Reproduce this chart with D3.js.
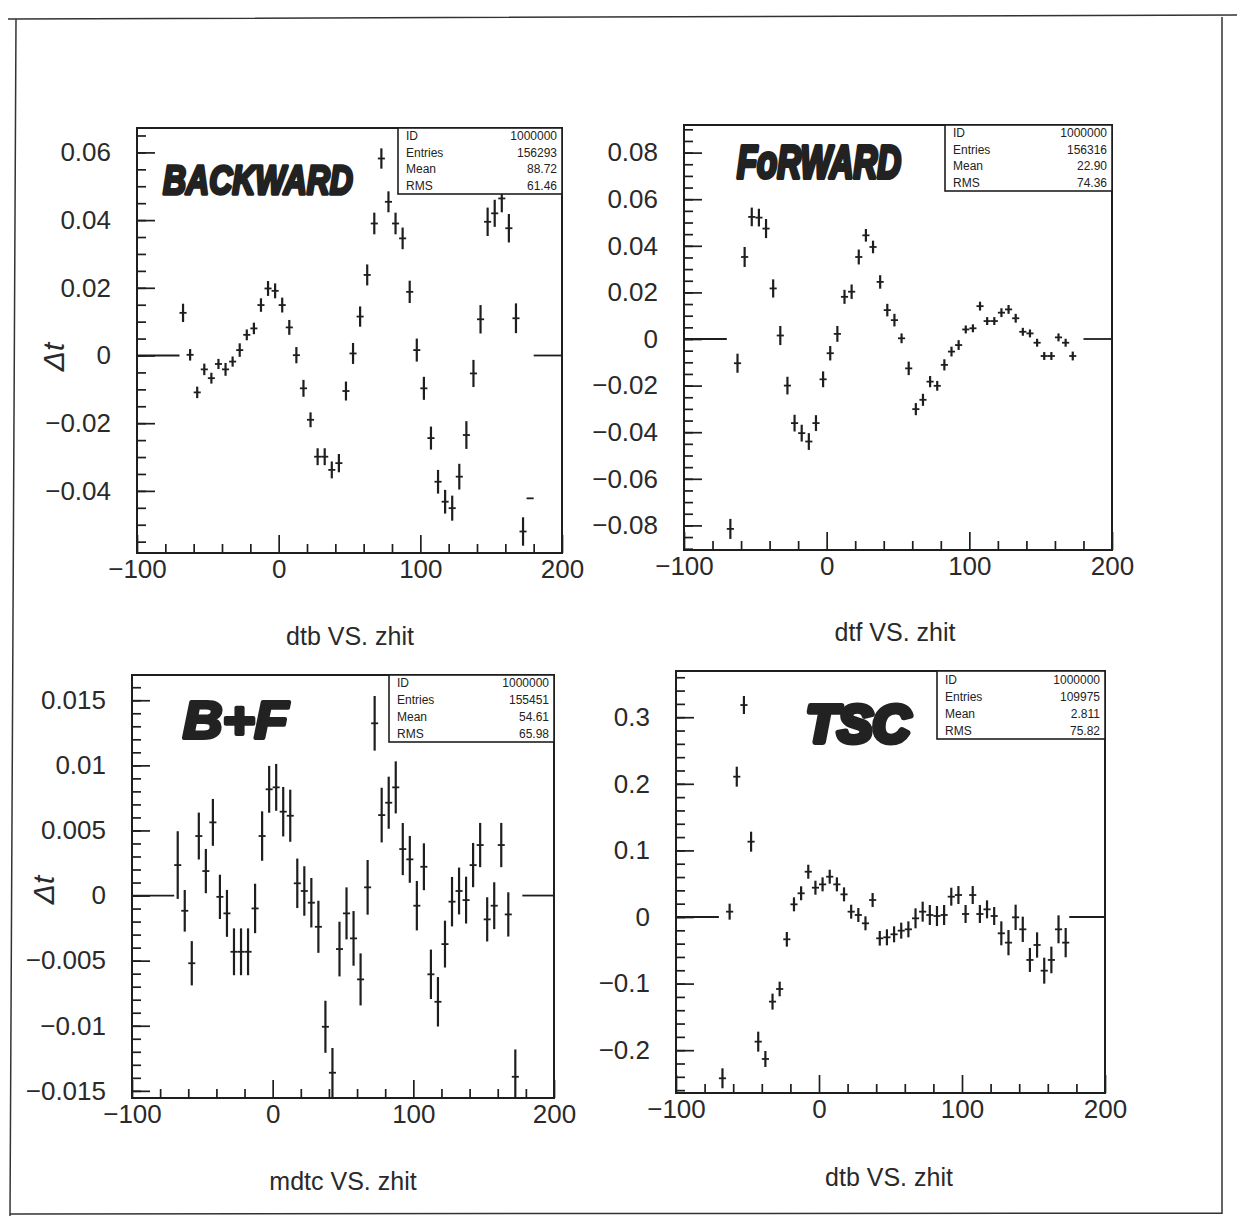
<!DOCTYPE html>
<html>
<head>
<meta charset="utf-8">
<script src="https://cdn.jsdelivr.net/npm/d3@7"></script>
<style>
  body { margin: 0; background: #fff; }
  svg { display: block; }
  text { font-family: "Liberation Sans", Arial, Helvetica, sans-serif; }
</style>
</head>
<body>
<svg id="page" width="1237" height="1219"></svg>
<script>
// ---- bin centres of the profile histograms (zhit, 5 unit bins) ----
const zhit = [-67.5, -62.5, -57.5, -52.5, -47.5, -42.5, -37.5, -32.5, -27.5, -22.5,
              -17.5, -12.5, -7.5, -2.5, 2.5, 7.5, 12.5, 17.5, 22.5, 27.5,
              32.5, 37.5, 42.5, 47.5, 52.5, 57.5, 62.5, 67.5, 72.5, 77.5,
              82.5, 87.5, 92.5, 97.5, 102.5, 107.5, 112.5, 117.5, 122.5, 127.5,
              132.5, 137.5, 142.5, 147.5, 152.5, 157.5, 162.5, 167.5, 172.5, 177.5];

// ---- dtb VS. zhit (backward) ----
const dtbBackward = [0.0126, 0.0002, -0.0109, -0.0041, -0.0067, -0.0025, -0.0041, -0.0018, 0.0016, 0.0061,
                     0.0080, 0.0149, 0.0198, 0.0191, 0.0149, 0.0083, 0.0001, -0.0097, -0.0190, -0.0299,
                     -0.0299, -0.0338, -0.0318, -0.0105, 0.0006, 0.0115, 0.0238, 0.0390, 0.0582, 0.0454,
                     0.0390, 0.0346, 0.0188, 0.0016, -0.0097, -0.0244, -0.0373, -0.0432, -0.0451, -0.0358,
                     -0.0235, -0.0053, 0.0107, 0.0395, 0.0420, 0.0464, 0.0376, 0.0110, -0.0520, -0.0422];
const dtbBackwardErr = [0.0027, 0.0017, 0.0017, 0.0017, 0.0016, 0.0015, 0.0019, 0.0015, 0.0020, 0.0016,
                        0.0017, 0.0020, 0.0022, 0.0022, 0.0022, 0.0022, 0.0024, 0.0025, 0.0022, 0.0025,
                        0.0025, 0.0025, 0.0027, 0.0028, 0.0031, 0.0030, 0.0031, 0.0032, 0.0030, 0.0031,
                        0.0032, 0.0032, 0.0033, 0.0034, 0.0034, 0.0034, 0.0035, 0.0035, 0.0037, 0.0038,
                        0.0041, 0.0040, 0.0042, 0.0042, 0.0040, 0.0041, 0.0042, 0.0044, 0.0042, 0];

// ---- dtf VS. zhit (forward) ----
const dtfForward = [-0.0815, -0.0104, 0.0352, 0.0524, 0.0521, 0.0474, 0.0217, 0.0015, -0.0200, -0.0361,
                    -0.0404, -0.0440, -0.0361, -0.0173, -0.0061, 0.0022, 0.0181, 0.0203, 0.0352, 0.0445,
                    0.0395, 0.0245, 0.0124, 0.0081, 0.0003, -0.0126, -0.0301, -0.0261, -0.0183, -0.0201,
                    -0.0111, -0.0054, -0.0026, 0.0041, 0.0046, 0.0141, 0.0077, 0.0077, 0.0113, 0.0127,
                    0.0089, 0.0031, 0.0024, -0.0016, -0.0073, -0.0073, 0.0007, -0.0016, -0.0073, null];
const dtfForwardErr = [0.0043, 0.0041, 0.0043, 0.0040, 0.0038, 0.0041, 0.0039, 0.0041, 0.0038, 0.0036,
                       0.0036, 0.0036, 0.0034, 0.0034, 0.0031, 0.0034, 0.0030, 0.0031, 0.0032, 0.0027,
                       0.0027, 0.0029, 0.0027, 0.0027, 0.0021, 0.0029, 0.0026, 0.0026, 0.0024, 0.0021,
                       0.0024, 0.0021, 0.0021, 0.0017, 0.0017, 0.0019, 0.0017, 0.0017, 0.0019, 0.0019,
                       0.0019, 0.0017, 0.0017, 0.0017, 0.0017, 0.0017, 0.0017, 0.0017, 0.0019, null];

// ---- mdtc VS. zhit (backward + forward) ----
const mdtcBF = [0.00234, -0.00117, -0.00520, 0.00457, 0.00188, 0.00562, -0.00010, -0.00137, -0.00432, -0.00432,
                -0.00432, -0.00099, 0.00457, 0.00816, 0.00831, 0.00644, 0.00613, 0.00094, 0.00035, -0.00055,
                -0.00240, -0.01008, -0.01361, -0.00411, -0.00137, -0.00329, -0.00644, 0.00063, 0.01323, 0.00618,
                0.00713, 0.00831, 0.00357, 0.00278, -0.00078, 0.00221, -0.00605, -0.00816, -0.00373, -0.00047,
                0.00035, -0.00035, 0.00234, 0.00388, -0.00183, -0.00078, 0.00388, -0.00145, -0.01392, null];
const mdtcBFErr = [0.0026, 0.0016, 0.0017, 0.0018, 0.0017, 0.0018, 0.0017, 0.0018, 0.0018, 0.0018,
                   0.0018, 0.0019, 0.0019, 0.0018, 0.0018, 0.0019, 0.0020, 0.0019, 0.0019, 0.0019,
                   0.0020, 0.0020, 0.0019, 0.0021, 0.0020, 0.0021, 0.0020, 0.0021, 0.0021, 0.0021,
                   0.0020, 0.0020, 0.0020, 0.0018, 0.0019, 0.0018, 0.0019, 0.0019, 0.0018, 0.0019,
                   0.0018, 0.0018, 0.0017, 0.0017, 0.0017, 0.0018, 0.0017, 0.0017, 0.0021, null];

// ---- dtb VS. zhit (TSC) ----
const dtbTSC = [-0.2422, 0.0080, 0.2107, 0.3183, 0.1131, -0.1872, -0.2132, -0.1271, -0.1081, -0.0335,
                0.0190, 0.0356, 0.0680, 0.0440, 0.0490, 0.0605, 0.0490, 0.0340, 0.0080, 0.0030,
                -0.0095, 0.0255, -0.0320, -0.0305, -0.0260, -0.0205, -0.0185, -0.0020, 0.0080, 0.0030,
                0.0015, 0.0030, 0.0305, 0.0330, 0.0045, 0.0330, 0.0045, 0.0115, 0.0015, -0.0245,
                -0.0385, -0.0005, -0.0185, -0.0645, -0.0420, -0.0806, -0.0645, -0.0185, -0.0385, null];
const dtbTSCErr = [0.0150, 0.0120, 0.0150, 0.0135, 0.0150, 0.0150, 0.0120, 0.0120, 0.0110, 0.0110,
                   0.0105, 0.0105, 0.0105, 0.0105, 0.0105, 0.0105, 0.0105, 0.0105, 0.0105, 0.0105,
                   0.0105, 0.0105, 0.0110, 0.0120, 0.0120, 0.0120, 0.0120, 0.0150, 0.0150, 0.0150,
                   0.0150, 0.0150, 0.0135, 0.0135, 0.0135, 0.0135, 0.0135, 0.0135, 0.0135, 0.0180,
                   0.0190, 0.0190, 0.0190, 0.0180, 0.0190, 0.0195, 0.0200, 0.0210, 0.0220, null];

// ---- statistics boxes ----
const statNames = ["ID", "Entries", "Mean", "RMS"];
const statsBackward = ["1000000", "156293", "88.72", "61.46"];
const statsForward  = ["1000000", "156316", "22.90", "74.36"];
const statsBF       = ["1000000", "155451", "54.61", "65.98"];
const statsTSC      = ["1000000", "109975", "2.811", "75.82"];

// ---- axis ticks ----
const xTickValues = [-100, 0, 100, 200];
const xTickLabels = ["\u2212100", "0", "100", "200"];
const yTicksBackward = [-0.04, -0.02, 0, 0.02, 0.04, 0.06];
const yLabelsBackward = ["\u22120.04", "\u22120.02", "0", "0.02", "0.04", "0.06"];
const yTicksForward = [-0.08, -0.06, -0.04, -0.02, 0, 0.02, 0.04, 0.06, 0.08];
const yLabelsForward = ["\u22120.08", "\u22120.06", "\u22120.04", "\u22120.02", "0", "0.02", "0.04", "0.06", "0.08"];
const yTicksBF = [-0.015, -0.01, -0.005, 0, 0.005, 0.01, 0.015];
const yLabelsBF = ["\u22120.015", "\u22120.01", "\u22120.005", "0", "0.005", "0.01", "0.015"];
const yTicksTSC = [-0.2, -0.1, 0, 0.1, 0.2, 0.3];
const yLabelsTSC = ["\u22120.2", "\u22120.1", "0", "0.1", "0.2", "0.3"];

const ink = "#1e1e1e";
const svg = d3.select("#page");

// outer sheet border
svg.append("path")
  .attr("d", "M8,19 L1237,15 M16,19 L10,1216 M1222,17 L1222,1214 M10,1214 L1222,1213")
  .attr("fill", "none").attr("stroke", "#333").attr("stroke-width", 1.5);

const panels = [
  { frame: [137, 562, 128, 553], yDomain: [-0.05835, 0.06721], yMinorStep: 0.005,
    values: dtbBackward, errors: dtbBackwardErr, empty: [[-100, -70], [180, 200]],
    yTicks: yTicksBackward, yLabels: yLabelsBackward, stats: statsBackward,
    statBox: [398, 194], title: "dtb VS. zhit", titlePos: [350, 645],
    tag: "BACKWARD", tagBox: [163, 194, 190, 40, 3], yTitle: [53, 357] },
  { frame: [684, 1112, 125, 550], yDomain: [-0.09056, 0.09185], yMinorStep: 0.005,
    values: dtfForward, errors: dtfForwardErr, empty: [[-100, -70], [180, 200]],
    yTicks: yTicksForward, yLabels: yLabelsForward, stats: statsForward,
    statBox: [945, 191], title: "dtf VS. zhit", titlePos: [895, 641],
    tag: "FoRWARD", tagBox: [737, 178, 164, 46, 3.5], yTitle: null },
  { frame: [132, 554, 675, 1098], yDomain: [-0.01555, 0.01694], yMinorStep: 0.001,
    values: mdtcBF, errors: mdtcBFErr, empty: [[-100, -70], [177.5, 200]],
    yTicks: yTicksBF, yLabels: yLabelsBF, stats: statsBF,
    statBox: [389, 742], title: "mdtc VS. zhit", titlePos: [343, 1190],
    tag: "B+F", tagBox: [183, 738, 105, 52, 4], yTitle: [43, 890] },
  { frame: [676, 1105, 671, 1093], yDomain: [-0.2643, 0.3694], yMinorStep: 0.02,
    values: dtbTSC, errors: dtbTSCErr, empty: [[-100, -70], [175, 200]],
    yTicks: yTicksTSC, yLabels: yLabelsTSC, stats: statsTSC,
    statBox: [937, 739], title: "dtb VS. zhit", titlePos: [889, 1186],
    tag: "TSC", tagBox: [806, 742, 104, 52, 6], yTitle: null }
];

panels.forEach((p, k) => {
  const [L, R, T, B] = p.frame;
  const x = d3.scaleLinear().domain([-100, 200]).range([L, R]);
  const y = d3.scaleLinear().domain(p.yDomain).range([B, T]);
  const g = svg.append("g");

  // minor ticks (inside the frame)
  const yMinor = d3.range(Math.ceil(p.yDomain[0] / p.yMinorStep) * p.yMinorStep, p.yDomain[1], p.yMinorStep)
    .map(v => +v.toFixed(6));
  const xMinor = d3.range(-80, 200, 20).filter(v => v % 100 !== 0);

  const minorY = g.append("g").attr("transform", `translate(${L},0)`)
    .call(d3.axisLeft(y).tickValues(yMinor).tickSize(-9).tickFormat(""));
  const minorX = g.append("g").attr("transform", `translate(0,${B})`)
    .call(d3.axisBottom(x).tickValues(xMinor).tickSize(-9).tickFormat(""));
  [minorY, minorX].forEach(a => a.selectAll("text").remove());

  // major ticks with labels
  const majorY = g.append("g").attr("transform", `translate(${L},0)`)
    .call(d3.axisLeft(y).tickValues(p.yTicks).tickSize(-18).tickPadding(26)
      .tickFormat((d, i) => p.yLabels[i]));
  const majorX = g.append("g").attr("transform", `translate(0,${B})`)
    .call(d3.axisBottom(x).tickValues(xTickValues).tickSize(-18).tickPadding(7)
      .tickFormat((d, i) => xTickLabels[i]));

  [minorY, minorX, majorY, majorX].forEach(a => {
    a.select(".domain").remove();
    a.selectAll("line").attr("stroke", ink).attr("stroke-width", 1.7);
    a.selectAll("text").attr("font-size", 26).attr("fill", "#2a2a2a")
      .attr("font-family", "'Liberation Sans', Arial, sans-serif");
  });

  // frame
  g.append("rect").attr("x", L).attr("y", T).attr("width", R - L).attr("height", B - T)
    .attr("fill", "none").attr("stroke", ink).attr("stroke-width", 2);

  // empty bins drawn at zero
  g.selectAll(".empty").data(p.empty).join("line")
    .attr("x1", d => x(d[0])).attr("x2", d => x(d[1]))
    .attr("y1", y(0)).attr("y2", y(0))
    .attr("stroke", ink).attr("stroke-width", 1.8);

  // profile points with error bars
  const pts = zhit.map((c, i) => ({ c, v: p.values[i], e: p.errors[i] }))
    .filter(d => d.v !== null && d.v !== undefined);
  const mk = g.append("g").attr("stroke", ink).attr("stroke-linecap", "butt");
  mk.selectAll(".h").data(pts).join("line")
    .attr("x1", d => x(d.c - 2.5)).attr("x2", d => x(d.c + 2.5))
    .attr("y1", d => y(d.v)).attr("y2", d => y(d.v))
    .attr("stroke-width", 1.8);
  mk.selectAll(".v").data(pts.filter(d => d.e > 0)).join("line")
    .attr("x1", d => x(d.c)).attr("x2", d => x(d.c))
    .attr("y1", d => Math.min(B, y(d.v - d.e))).attr("y2", d => Math.max(T, y(d.v + d.e)))
    .attr("stroke-width", 2.2);

  // statistics box
  const [bx, bb] = p.statBox;
  g.append("rect").attr("x", bx).attr("y", T).attr("width", R - bx).attr("height", bb - T)
    .attr("fill", "#fff").attr("stroke", ink).attr("stroke-width", 1.6);
  const rowH = (bb - T) / 4;
  statNames.forEach((n, i) => {
    const yy = T + rowH * (i + 0.5) + 4;
    g.append("text").attr("x", bx + 8).attr("y", yy).attr("font-size", 12).attr("fill", "#222").text(n);
    g.append("text").attr("x", R - 5).attr("y", yy).attr("font-size", 12).attr("fill", "#222")
      .attr("text-anchor", "end").text(p.stats[i]);
  });

  // x-axis title
  g.append("text").attr("x", p.titlePos[0]).attr("y", p.titlePos[1])
    .attr("text-anchor", "middle").attr("font-size", 25).attr("fill", "#2a2a2a").text(p.title);

  // hand-written marker tag, squeezed horizontally to its written width
  const [tx, ty, tw, tf, ts] = p.tagBox;
  const tag = g.append("text")
    .attr("font-family", "'DejaVu Sans', sans-serif").attr("font-weight", "bold")
    .attr("font-style", "oblique").attr("font-size", tf)
    .attr("fill", "#222").attr("stroke", "#222").attr("stroke-width", ts)
    .attr("stroke-linejoin", "round").text(p.tag);
  const natural = tag.node().getComputedTextLength();
  const sx = tw / natural;
  tag.attr("transform", `translate(${tx},${ty}) scale(${sx},1)`)
    .attr("stroke-width", ts / Math.sqrt(sx));

  // vertical axis title
  if (p.yTitle) {
    g.append("text").attr("transform", `translate(${p.yTitle[0]},${p.yTitle[1]}) rotate(-90)`)
      .attr("text-anchor", "middle").attr("dy", "0.35em")
      .attr("font-family", "'DejaVu Serif', serif").attr("font-style", "italic")
      .attr("font-size", 30).attr("fill", "#2a2a2a").text("\u0394t");
  }
});
</script>
</body>
</html>
